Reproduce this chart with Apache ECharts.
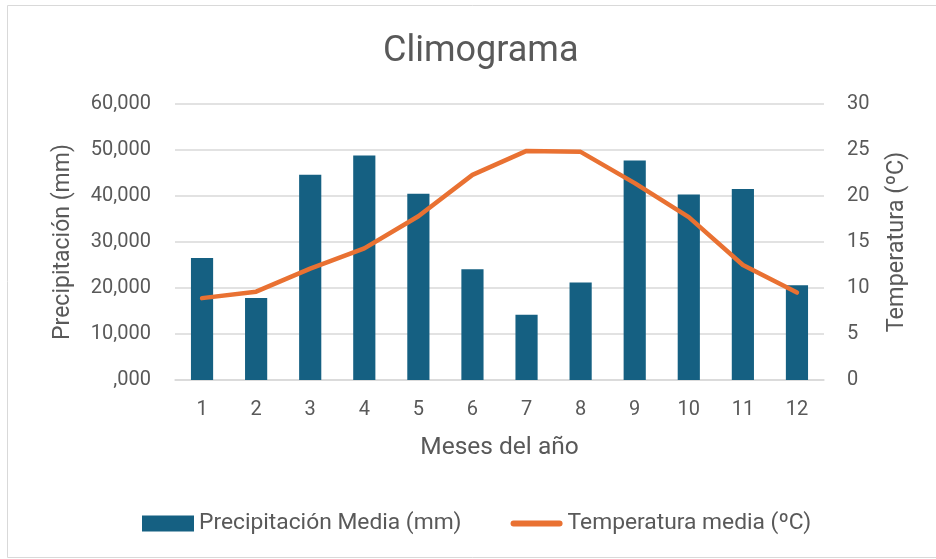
<!DOCTYPE html>
<html>
<head>
<meta charset="utf-8">
<title>Climograma</title>
<script src="https://cdn.jsdelivr.net/npm/echarts@6/dist/echarts.min.js"></script>
<style>
  html, body { margin: 0; padding: 0; background: #fff; }
  #chart { width: 936px; height: 559px; }
</style>
</head>
<body>
<div id="chart"></div>
<script>
// datos del climograma
var meses = ["1", "2", "3", "4", "5", "6", "7", "8", "9", "10", "11", "12"];
var precipitacion = [26500, 17800, 44600, 48800, 40500, 24100, 14200, 21200, 47700, 40300, 41500, 20600];
var temperatura = [8.9, 9.6, 12.1, 14.3, 17.8, 22.3, 24.9, 24.8, 21.4, 17.7, 12.5, 9.5];

var gris = "#595959";
var fuente = "Roboto";

var myChart = echarts.init(document.getElementById("chart"));

myChart.setOption({
  animation: false,
  textStyle: { fontFamily: fuente },
  title: {
    text: "Climograma",
    left: 378,
    top: 29,
    textStyle: { color: gris, fontSize: 36, fontWeight: "normal", fontFamily: fuente }
  },
  // marco gris del área del gráfico
  graphic: [{
    type: "rect",
    shape: { x: 7.5, y: 5.5, width: 940, height: 552 },
    style: { fill: null, stroke: "#d9d9d9", lineWidth: 1 },
    silent: true
  }],
  grid: { left: 175, right: 112, top: 104, bottom: 179 },
  legend: {
    bottom: 19,
    left: 137,
    itemGap: 49,
    itemWidth: 52,
    itemHeight: 16,
    textStyle: { color: gris, fontSize: 22.8, fontFamily: fuente },
    data: [
      { name: "Precipitación Media (mm)", icon: "rect" },
      { name: "Temperatura media (ºC)", icon: "path://M3,0 L49,0 A3,3 0 0 1 49,6 L3,6 A3,3 0 0 1 3,0 Z" }
    ]
  },
  xAxis: {
    type: "category",
    data: meses,
    name: "Meses del año",
    nameLocation: "middle",
    nameGap: 55,
    nameTextStyle: { color: gris, fontSize: 24.5 },
    axisLine: { lineStyle: { color: "#d9d9d9", width: 1.5 } },
    axisTick: { show: false },
    axisLabel: { color: gris, fontSize: 20, margin: 20 }
  },
  yAxis: [
    {
      type: "value",
      min: 0,
      max: 60000,
      interval: 10000,
      name: "Precipitación (mm)",
      nameLocation: "middle",
      nameGap: 100,
      nameTextStyle: { color: gris, fontSize: 23 },
      axisLine: { show: false },
      axisTick: { show: false },
      splitLine: { lineStyle: { color: "#d9d9d9", width: 1.5 } },
      axisLabel: {
        color: gris,
        fontSize: 20,
        margin: 24,
        formatter: function (v) {
          return v === 0 ? ",000" : (v / 1000) + ",000";
        }
      }
    },
    {
      type: "value",
      min: 0,
      max: 30,
      interval: 5,
      name: "Temperatura (ºC)",
      nameLocation: "middle",
      nameGap: 61,
      nameTextStyle: { color: gris, fontSize: 23.5 },
      axisLine: { show: false },
      axisTick: { show: false },
      splitLine: { show: false },
      axisLabel: { color: gris, fontSize: 20, margin: 23 }
    }
  ],
  series: [
    {
      name: "Precipitación Media (mm)",
      type: "bar",
      yAxisIndex: 0,
      barWidth: "41%",
      itemStyle: { color: "#156082" },
      data: precipitacion
    },
    {
      name: "Temperatura media (ºC)",
      type: "line",
      yAxisIndex: 1,
      symbol: "none",
      lineStyle: { color: "#E97132", width: 4.5, cap: "round", join: "round" },
      itemStyle: { color: "#E97132" },
      data: temperatura
    }
  ]
});
</script>
</body>
</html>
